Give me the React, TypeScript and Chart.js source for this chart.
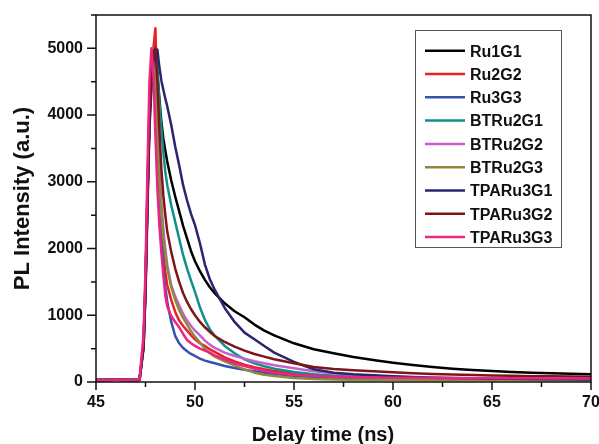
import { useEffect, useRef } from 'react';
import { Chart, registerables } from 'chart.js';

Chart.register(...registerables);

// Delay time (ns)
const times = [45, 46, 47, 47.2, 47.4, 47.5, 47.6, 47.7, 47.8, 47.9, 48.0, 48.1, 48.2, 48.3, 48.4, 48.5, 48.6, 48.8, 49.0, 49.2, 49.4, 49.6, 49.8, 50.0, 50.25, 50.5, 50.75, 51, 51.5, 52, 52.5, 53, 53.5, 54, 55, 56, 57, 58, 59, 60, 61, 62, 63, 64, 65, 66, 67, 68, 69, 70];

const seriesNames = ['Ru1G1', 'Ru2G2', 'Ru3G3', 'BTRu2G1', 'BTRu2G2', 'BTRu2G3', 'TPARu3G1', 'TPARu3G2', 'TPARu3G3'];

const ru1g1 = [30, 32, 30, 35, 520, 1400, 2700, 3900, 4500, 4850, 5000, 4650, 4250, 3900, 3650, 3470, 3300, 3020, 2780, 2560, 2340, 2150, 1960, 1810, 1660, 1530, 1420, 1330, 1180, 1060, 970, 860, 770, 700, 580, 490, 430, 375, 330, 290, 255, 225, 200, 180, 165, 150, 140, 132, 125, 118];
const ru2g2 = [30, 32, 30, 35, 600, 1500, 2900, 4200, 4800, 5000, 5300, 4200, 3000, 2250, 1900, 1650, 1450, 1230, 1050, 920, 840, 770, 700, 640, 580, 540, 490, 450, 370, 310, 260, 220, 190, 165, 130, 105, 90, 80, 72, 65, 60, 55, 52, 50, 48, 46, 45, 44, 43, 42];
const ru3g3 = [30, 32, 30, 35, 550, 1450, 2800, 4000, 4700, 4950, 4500, 3700, 2900, 2300, 1700, 1420, 1200, 900, 690, 580, 510, 460, 420, 390, 350, 320, 300, 280, 240, 210, 185, 160, 140, 120, 90, 70, 55, 45, 40, 38, 36, 35, 34, 33, 32, 32, 31, 30, 30, 30];
const btru2g1 = [30, 32, 30, 35, 550, 1450, 2800, 4000, 4600, 4900, 5000, 4650, 4200, 3800, 3450, 3150, 2950, 2650, 2400, 2150, 1900, 1700, 1520, 1350, 1120, 930, 790, 690, 540, 430, 340, 280, 235, 200, 150, 115, 92, 78, 68, 60, 55, 52, 50, 48, 46, 44, 42, 41, 40, 38];
const btru2g2 = [30, 32, 30, 35, 550, 1450, 2800, 4000, 4600, 4950, 4700, 3900, 3200, 2700, 2300, 2000, 1750, 1450, 1280, 1150, 1020, 920, 840, 770, 700, 620, 560, 510, 440, 390, 350, 310, 280, 250, 205, 160, 130, 105, 90, 80, 72, 65, 60, 55, 50, 48, 45, 43, 40, 40];
const btru2g3 = [30, 32, 30, 35, 550, 1450, 2800, 4000, 4600, 5000, 4600, 3700, 3000, 2500, 2150, 1900, 1700, 1420, 1230, 1080, 960, 860, 760, 680, 590, 500, 430, 380, 310, 250, 190, 140, 110, 90, 60, 45, 38, 35, 33, 32, 31, 30, 30, 30, 30, 30, 30, 30, 30, 30];
const tparu3g1 = [30, 32, 30, 35, 500, 1300, 2600, 3800, 4400, 4800, 4950, 4980, 4720, 4520, 4380, 4250, 4130, 3850, 3530, 3250, 2950, 2720, 2520, 2350, 2080, 1760, 1540, 1380, 1110, 900, 740, 640, 540, 440, 300, 190, 140, 115, 100, 85, 75, 65, 60, 55, 50, 48, 45, 42, 40, 38];
const tparu3g2 = [30, 32, 30, 35, 550, 1450, 2800, 4000, 4600, 4950, 5000, 4500, 3800, 3200, 2800, 2500, 2250, 1950, 1700, 1500, 1330, 1200, 1090, 1000, 900, 820, 750, 690, 600, 530, 470, 420, 380, 340, 280, 225, 195, 175, 160, 145, 130, 120, 112, 105, 98, 92, 88, 85, 82, 80];
const tparu3g3 = [30, 32, 30, 40, 700, 1700, 3200, 4500, 5000, 4600, 3700, 2900, 2350, 1950, 1600, 1300, 1130, 990, 900, 820, 720, 630, 580, 540, 500, 470, 440, 400, 340, 280, 240, 200, 170, 140, 105, 90, 80, 72, 68, 65, 62, 60, 58, 57, 56, 55, 55, 54, 53, 52];

const seriesValues = [ru1g1, ru2g2, ru3g3, btru2g1, btru2g2, btru2g3, tparu3g1, tparu3g2, tparu3g3];
const seriesColors = ['#000000', '#ec1f24', '#3651b0', '#10908a', '#c460cc', '#8c8b3a', '#27266f', '#7e1518', '#ec2584'];

const xTickValues = [45, 50, 55, 60, 65, 70];
const yTickValues = [0, 1000, 2000, 3000, 4000, 5000];
const xRange = [45, 70];
const yRange = [0, 5500];
const xTitle = 'Delay time (ns)';
const yTitle = 'PL Intensity (a.u.)';

const FONT = '"Liberation Sans", Arial, Helvetica, sans-serif';

const framePlugin = {
  id: 'frameTicks',
  afterDatasetsDraw(chart: any) {
    const { ctx, chartArea: a, scales } = chart;
    ctx.save();
    ctx.strokeStyle = '#111';
    ctx.lineWidth = 1.5;
    ctx.strokeRect(a.left, a.top, a.right - a.left, a.bottom - a.top);
    const xs = scales.x;
    const ys = scales.y;
    const xv = xs.ticks.map((t: any) => t.value);
    const yv = ys.ticks.map((t: any) => t.value);
    ctx.beginPath();
    xv.forEach((v: number, i: number) => {
      const px = xs.getPixelForValue(v);
      ctx.moveTo(px, a.bottom);
      ctx.lineTo(px, a.bottom + 8);
      if (i < xv.length - 1) {
        const m = xs.getPixelForValue((v + xv[i + 1]) / 2);
        ctx.moveTo(m, a.bottom);
        ctx.lineTo(m, a.bottom + 5);
      }
    });
    const ystep = yv[1] - yv[0];
    yv.forEach((v: number) => {
      const py = ys.getPixelForValue(v);
      ctx.moveTo(a.left, py);
      ctx.lineTo(a.left - 9, py);
      const mv = v + ystep / 2;
      if (mv <= ys.max) {
        const m = ys.getPixelForValue(mv);
        ctx.moveTo(a.left, m);
        ctx.lineTo(a.left - 5, m);
      }
    });
    ctx.stroke();
    ctx.restore();
  },
  afterDraw(chart: any) {
    const { ctx } = chart;
    const ds = chart.data.datasets;
    ctx.save();
    // x-axis title (offset left of the axis centre, as in the original)
    ctx.fillStyle = '#111';
    ctx.font = 'bold 20px ' + FONT;
    ctx.textAlign = 'center';
    ctx.textBaseline = 'alphabetic';
    ctx.fillText(xTitle, 323, 440.5);
    // legend box
    const bx = 415.5, by = 30.5, bw = 146, bh = 217;
    ctx.fillStyle = '#ffffff';
    ctx.fillRect(bx, by, bw, bh);
    ctx.strokeStyle = '#555';
    ctx.lineWidth = 1;
    ctx.strokeRect(bx, by, bw, bh);
    ctx.font = 'bold 16px ' + FONT;
    ctx.textAlign = 'left';
    ds.forEach((d: any, i: number) => {
      const cy = 50.7 + i * 23.3;
      ctx.strokeStyle = d.borderColor;
      ctx.lineWidth = 2.5;
      ctx.beginPath();
      ctx.moveTo(425, cy);
      ctx.lineTo(465, cy);
      ctx.stroke();
      ctx.fillStyle = '#111';
      ctx.fillText(d.label, 470, cy + 5.8);
    });
    ctx.restore();
  },
};

const zeroPad = (s: any) => {
  s.paddingTop = 0;
  s.paddingBottom = 0;
  s.paddingLeft = 0;
  s.paddingRight = 0;
};

export default function App() {
  const ref = useRef<HTMLCanvasElement | null>(null);
  useEffect(() => {
    if (!ref.current) return;
    const n = seriesNames.length;
    const chart = new Chart(ref.current, {
      type: 'line',
      data: {
        datasets: seriesNames.map((name, i) => ({
          label: name,
          data: times.map((t, k) => ({ x: t, y: seriesValues[i][k] })),
          borderColor: seriesColors[i],
          backgroundColor: seriesColors[i],
          borderWidth: 2.5,
          pointRadius: 0,
          tension: 0,
          fill: false,
          order: n - i,
          borderJoinStyle: 'round' as const,
        })),
      },
      options: {
        animation: false,
        responsive: false,
        events: [],
        layout: { padding: { top: 15, right: 8, left: 0, bottom: 0 } },
        plugins: { legend: { display: false }, tooltip: { enabled: false } },
        scales: {
          x: {
            type: 'linear',
            min: xRange[0],
            max: xRange[1],
            afterBuildTicks: (s: any) => { s.ticks = xTickValues.map((v) => ({ value: v })); },
            afterFit: (s: any) => { s.height = 62; zeroPad(s); },
            grid: { display: false, drawTicks: false },
            border: { display: false },
            ticks: { color: '#111', padding: 11, font: { family: FONT, size: 16, weight: 'bold' }, maxRotation: 0, callback: (v: any) => String(v) },
            title: { display: false },
          },
          y: {
            type: 'linear',
            min: yRange[0],
            max: yRange[1],
            afterBuildTicks: (s: any) => { s.ticks = yTickValues.map((v) => ({ value: v })); },
            afterFit: (s: any) => { s.width = 96; zeroPad(s); },
            grid: { display: false, drawTicks: false },
            border: { display: false },
            ticks: { color: '#111', padding: 13, font: { family: FONT, size: 16, weight: 'bold' }, callback: (v: any) => String(v) },
            title: { display: true, text: yTitle, color: '#111', padding: { top: 12, bottom: 0 }, font: { family: FONT, size: 22, weight: 'bold', lineHeight: 1 } },
          },
        },
      },
      plugins: [framePlugin],
    } as any);
    return () => chart.destroy();
  }, []);
  return (
    <div style={{ position: 'absolute', left: 0, top: 0, width: 599, height: 444, background: '#fff' }}>
      <canvas ref={ref} width={599} height={444} style={{ width: 599, height: 444, display: 'block' }} />
    </div>
  );
}
